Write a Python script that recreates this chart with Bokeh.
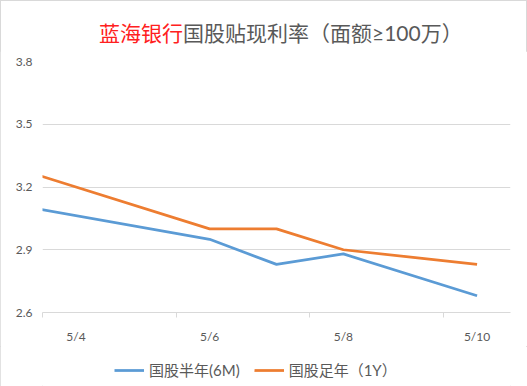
import datetime
from bokeh.plotting import figure
from bokeh.layouts import column
from bokeh.models import (ColumnDataSource, FixedTicker, Legend, LegendItem,
                          Range1d, Div)
from bokeh.embed import file_html
from bokeh.resources import INLINE

# ---- data ----
year = 2021
dates = ["4/30", "5/6", "5/7", "5/8", "5/10"]
half_year_6m = [3.29, 2.95, 2.83, 2.88, 2.68]
full_year_1y = [3.60, 3.00, 3.00, 2.90, 2.83]
tick_labels = ["5/4", "5/6", "5/8", "5/10"]
y_ticks = [2.6, 2.9, 3.2, 3.5, 3.8]
series_names = ["国股半年(6M)", "国股足年（1Y）"]
series_colors = ["#5B9BD5", "#ED7D31"]
title_red = "蓝海银行"
title_rest = "国股贴现利率（面额≥100万）"

base = datetime.date(year, 5, 1).toordinal() - 1  # day number (May 1 -> 1)


def day_no(s):
    m, d = (int(v) for v in s.split("/"))
    return datetime.date(year, m, d).toordinal() - base


x = [day_no(d) for d in dates]
tick_x = [day_no(t) for t in tick_labels]
first_day = tick_x[0] - 0.5
last_day = tick_x[-1] + 0.5
minor = [t - 0.5 for t in tick_x]

GRID = "#d9d9d9"
TXT = "#595959"
FONT = "Lato, 'Noto Sans CJK SC'"

title = Div(text=f'<span style="color:#ff2020">{title_red}</span>{title_rest}',
            width=527, height=51, margin=0,
            styles={"font-family": FONT, "font-size": "21px",
                    "line-height": "21px", "padding-top": "21px", "padding-left": "99px",
                    "color": TXT, "box-sizing": "border-box", "white-space": "nowrap",
                    "border-top": "1px solid #d9d9d9"})

src = ColumnDataSource(dict(x=x, a=half_year_6m, b=full_year_1y))

p = figure(width=527, height=295, output_backend="svg", toolbar_location=None,
           x_range=Range1d(first_day, last_day), y_range=Range1d(y_ticks[0], y_ticks[-1]),
           min_border_left=42, min_border_right=17, min_border_top=10, min_border_bottom=29)
p.outline_line_color = None
p.background_fill_color = "white"
p.border_fill_color = "white"

p.line("x", "a", source=src, line_color=series_colors[0], line_width=2.75)
p.line("x", "b", source=src, line_color=series_colors[1], line_width=2.75)

# x axis
xa = p.xaxis[0]
xa.ticker = FixedTicker(ticks=tick_x, minor_ticks=minor)
xa.major_label_overrides = {t: l for t, l in zip(tick_x, tick_labels)}
xa.major_tick_out = 0
xa.major_tick_in = 0
xa.minor_tick_out = 5
xa.minor_tick_in = 0
xa.minor_tick_line_color = GRID
xa.axis_line_color = GRID
xa.major_label_text_font = "Lato"
xa.major_label_text_font_size = "12px"
xa.major_label_text_color = TXT
xa.major_label_standoff = 11

# y axis
ya = p.yaxis[0]
ya.ticker = FixedTicker(ticks=y_ticks)
ya.axis_line_color = None
ya.major_tick_line_color = None
ya.minor_tick_line_color = None
ya.major_tick_out = 0
ya.major_tick_in = 0
ya.minor_tick_out = 0
ya.minor_tick_in = 0
ya.major_label_text_font = "Lato"
ya.major_label_text_font_size = "12px"
ya.major_label_text_color = TXT
ya.major_label_standoff = 10

p.xgrid.grid_line_color = None
p.ygrid.grid_line_color = GRID
p.ygrid.ticker = FixedTicker(ticks=y_ticks)

# legend strip (separate small figure holding the legend samples)
lg = figure(width=527, height=40, output_backend="svg", toolbar_location=None,
            x_axis_location=None, y_axis_location=None,
            x_range=Range1d(0, 1), y_range=Range1d(0, 1),
            min_border_left=0, min_border_right=0, min_border_top=0, min_border_bottom=0)
lg.outline_line_color = None
lg.xgrid.visible = False
lg.ygrid.visible = False
items = []
for name, col in zip(series_names, series_colors):
    r = lg.line(x=[float("nan")], y=[float("nan")], line_color=col, line_width=2.75)
    items.append(LegendItem(label=name, renderers=[r]))
legend = Legend(items=items, orientation="horizontal", location=(72, 6))
legend.label_text_font = FONT
legend.label_text_font_size = "15px"
legend.label_text_color = TXT
legend.glyph_width = 30
legend.label_standoff = 5
legend.spacing = 14
legend.padding = 0
legend.margin = 0
legend.border_line_color = None
legend.background_fill_alpha = 0
lg.add_layout(legend, "center")

layout = column(title, p, lg, spacing=0,
                styles={"outline": "1px solid #d9d9d9", "outline-offset": "-1px"})
open("out.html", "w").write(file_html(layout, INLINE))
